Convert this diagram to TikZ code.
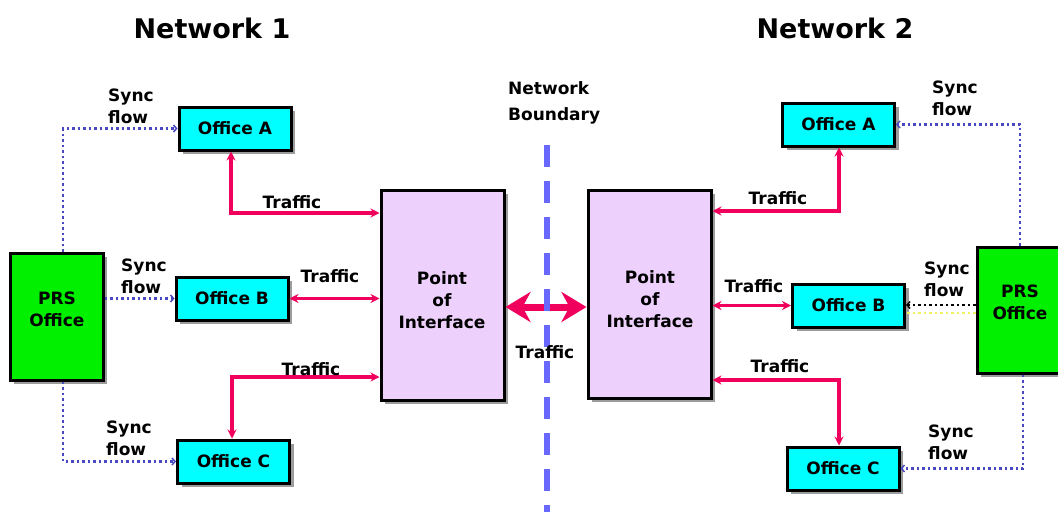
\documentclass[tikz,border=0pt]{standalone}
\usepackage{fontspec}
\setmainfont{DejaVu Sans}
\usetikzlibrary{arrows.meta,shadows}
\definecolor{cyanbox}{HTML}{00FFFF}
\definecolor{greenbox}{HTML}{00F000}
\definecolor{lavbox}{HTML}{EED0FC}
\definecolor{traffic}{HTML}{F0005C}
\definecolor{syncblue}{HTML}{4848C0}
\definecolor{boundary}{HTML}{6868FF}
\definecolor{syncyellow}{HTML}{F0F060}
\tikzset{
  box/.style={draw=black, line width=3pt, inner sep=0pt, align=center,
    font=\fontsize{17}{22}\selectfont\bfseries,
    drop shadow={shadow xshift=4pt, shadow yshift=-4pt, fill=black!55, opacity=0.7}},
  office/.style={box, fill=cyanbox, minimum width=112pt, minimum height=43pt},
  prs/.style={box, fill=greenbox},
  poi/.style={box, fill=lavbox, minimum width=123pt},
  lbl/.style={font=\fontsize{17}{22}\selectfont\bfseries, inner sep=0pt, align=left},
  ttl/.style={font=\fontsize{27}{32}\selectfont\bfseries, inner sep=0pt},
  trafficline/.style={draw=traffic, line width=3.5pt,
    {Stealth[length=9pt,width=9pt]}-{Stealth[length=9pt,width=9pt]}},
  syncline/.style={draw=syncblue, line width=2.5pt, dash pattern=on 2.5pt off 3pt,
    -{Straight Barb[length=3pt,width=7pt,line width=1.5pt]}},
}
\begin{document}
\begin{tikzpicture}[x=1pt,y=-1pt]
\path[use as bounding box, clip] (0,0) rectangle (1058,512);
\fill[white] (0,0) rectangle (1058,512);

% titles
\node[ttl] (t1) at (212,28) {Network 1};
\node[ttl] (t2) at (835,28) {Network 2};
\node[lbl, anchor=west, font=\fontsize{17}{26}\selectfont\bfseries] (nb) at (508,103) {Network\\Boundary};

% left network
\node[prs, minimum width=93pt, minimum height=127pt] (lprs) at (56.5,316.5) {};
\node[lbl, align=center] (lprst) at (57,309) {PRS\\Office};
\node[office] (la) at (235,128.5) {Office A};
\node[office] (lb) at (232,298.5) {Office B};
\node[office] (lc) at (233.5,461.5) {Office C};
\node[poi, minimum height=210pt] (lpoi) at (442.5,295) {};
\node[lbl, align=center] (lpoit) at (442,300) {Point\\of\\Interface};

% right network
\node[prs, minimum width=86pt, minimum height=126pt] (rprs) at (1020,310) {};
\node[lbl, align=center] (rprst) at (1020,302) {PRS\\Office};
\node[office] (ra) at (838.5,124.5) {Office A};
\node[office] (rb) at (848.5,305.5) {Office B};
\node[office] (rc) at (843,468.5) {Office C};
\node[poi, minimum height=208pt] (rpoi) at (649.5,294) {};
\node[lbl, align=center] (rpoit) at (650,299) {Point\\of\\Interface};

% traffic left
\draw[trafficline] (la.south -| 231,0) |- (lpoi.west |- 0,213);
\draw[trafficline] (lb.east) -- (lpoi.west |- lb.east);
\draw[trafficline] (lpoi.west |- 0,377) -| (lc.north -| 232,0);
% traffic right
\draw[trafficline] (ra.south -| 839,0) |- (rpoi.east |- 0,211);
\draw[trafficline] (rb.west) -- (rpoi.east |- rb.west);
\draw[trafficline] (rpoi.east |- 0,380) -| (rc.north -| 839,0);

% central traffic
\draw[draw=traffic, line width=7pt,
  {Stealth[length=25pt,width=30pt,inset=8pt]}-{Stealth[length=25pt,width=30pt,inset=8pt]}]
  (lpoi.east |- 0,307) -- (rpoi.west |- 0,307);

% boundary
\coordinate (bt) at (547,145);
\coordinate (bb) at (547,512);
\draw[boundary, line width=6pt, dash pattern=on 22pt off 14pt] (bt) -- (bb);

% sync left
\draw[syncline] (lprs.north -| 63,0) |- (la.west);
\draw[syncline] (lprs.east |- lb.west) -- (lb.west);
\draw[syncline] (lprs.south -| 63,0) |- (lc.west);
% sync right
\draw[syncline] (rprs.north -| 1020,0) |- (ra.east);
\draw[syncline, draw=black] (rprs.west |- 0,305) -- (rb.east |- 0,305);
\draw[draw=syncyellow, line width=2.5pt, dash pattern=on 2.5pt off 3pt] (rprs.west |- 0,313) -- (rb.east |- 0,313);
\draw[syncline] (rprs.south -| 1023,0) |- (rc.east);

% labels
\node[lbl] (tl1) at (292,202) {Traffic};
\node[lbl] (tl2) at (330,276) {Traffic};
\node[lbl] (tl3) at (311,369) {Traffic};
\node[lbl] (tm) at (545,352) {Traffic};
\node[lbl] (tr1) at (778,198) {Traffic};
\node[lbl] (tr2) at (754,286) {Traffic};
\node[lbl] (tr3) at (780,366) {Traffic};

\node[lbl, anchor=west] (sl1) at (108,106) {Sync\\flow};
\node[lbl, anchor=west] (sl2) at (121,276) {Sync\\flow};
\node[lbl, anchor=west] (sl3) at (106,438) {Sync\\flow};
\node[lbl, anchor=west] (sr1) at (932,98) {Sync\\flow};
\node[lbl, anchor=west] (sr2) at (924,279) {Sync\\flow};
\node[lbl, anchor=west] (sr3) at (928,442) {Sync\\flow};
\end{tikzpicture}
\end{document}
